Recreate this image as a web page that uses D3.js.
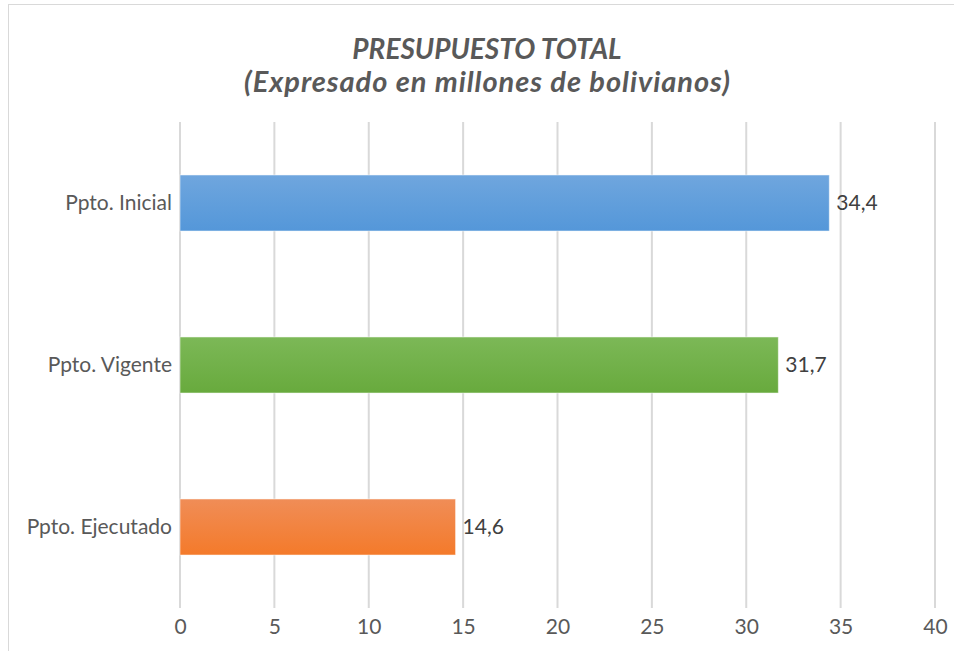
<!DOCTYPE html>
<html><head><meta charset="utf-8">
<script src="https://cdn.jsdelivr.net/npm/d3@7"></script>
<style>body{margin:0;background:#fff;font-family:Lato,"Open Sans",sans-serif;}</style>
</head><body><svg id="c" width="954" height="651"></svg>
<script>
const categories = ["Ppto. Inicial", "Ppto. Vigente", "Ppto. Ejecutado"];
const values = [34.4, 31.7, 14.6];
const valueLabels = ["34,4", "31,7", "14,6"];
const tickValues = [0, 5, 10, 15, 20, 25, 30, 35, 40];
const colorsTop = ["#6fa6de", "#7cb857", "#f08d57"];
const colorsBottom = ["#5497d9", "#68aa3d", "#f47a2a"];

const svg = d3.select("#c");
svg.append("rect").attr("x", 8.5).attr("y", 4.5).attr("width", 960).attr("height", 660)
  .attr("fill", "#fff").attr("stroke", "#d9d9d9").attr("stroke-width", 1);

const defs = svg.append("defs");
categories.forEach((c, i) => {
  const g = defs.append("linearGradient").attr("id", "g" + i).attr("x1", 0).attr("y1", 0).attr("x2", 0).attr("y2", 1);
  g.append("stop").attr("offset", "0%").attr("stop-color", colorsTop[i]);
  g.append("stop").attr("offset", "100%").attr("stop-color", colorsBottom[i]);
});

const x = d3.scaleLinear().domain([0, 40]).range([180, 935]);
const y = d3.scaleBand().domain(categories).range([122, 608]).paddingInner(0.654).paddingOuter(0.327);

// title
const t = svg.append("text").attr("text-anchor", "middle").attr("fill", "#595959")
  .attr("font-family", "Lato, sans-serif").attr("font-weight", "bold").attr("font-style", "italic").attr("font-size", 28);
t.append("tspan").attr("x", 487).attr("y", 59).text("PRESUPUESTO TOTAL");
t.append("tspan").attr("x", 487).attr("y", 92).attr("font-size", 29)
  .attr("textLength", 486).attr("lengthAdjust", "spacing").text("(Expresado en millones de bolivianos)");

// gridlines
svg.append("g").selectAll("line").data(tickValues).join("line")
  .attr("x1", d => x(d)).attr("x2", d => x(d)).attr("y1", 122).attr("y2", 608)
  .attr("stroke", "#d9d9d9").attr("stroke-width", 2);

// x axis
const xa = svg.append("g").attr("transform", "translate(0,608)")
  .call(d3.axisBottom(x).tickValues(tickValues).tickSize(0).tickPadding(11).tickFormat(d3.format("d")));
xa.select(".domain").remove();
xa.selectAll("text").attr("font-family", "Lato, sans-serif").attr("font-size", 21).attr("fill", "#595959");

// y axis
const ya = svg.append("g").attr("transform", "translate(180,0)")
  .call(d3.axisLeft(y).tickSize(0).tickPadding(8));
ya.select(".domain").remove();
ya.selectAll("text").attr("font-family", "Lato, sans-serif").attr("font-size", 21).attr("fill", "#595959");

// bars
svg.append("g").selectAll("rect").data(categories).join("rect")
  .attr("x", x(0)).attr("y", d => y(d))
  .attr("width", (d, i) => x(values[i]) - x(0)).attr("height", y.bandwidth())
  .attr("fill", (d, i) => `url(#g${i})`).attr("stroke", "#ffffff").attr("stroke-opacity", 0.5).attr("stroke-width", 1);

// value labels
svg.append("g").selectAll("text").data(categories).join("text")
  .attr("x", (d, i) => x(values[i]) + 7).attr("y", d => y(d) + y.bandwidth() / 2)
  .attr("dy", "0.35em").attr("font-family", "Lato, sans-serif").attr("font-size", 21).attr("fill", "#404040")
  .text((d, i) => valueLabels[i]);
</script></body></html>
